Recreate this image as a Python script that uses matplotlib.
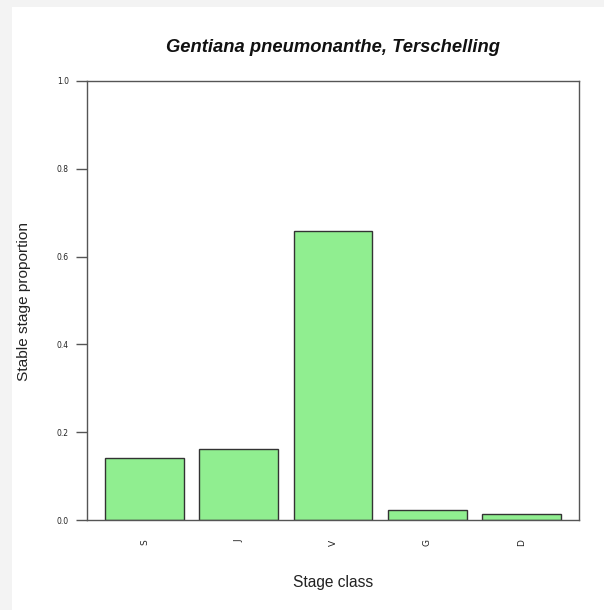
import matplotlib
matplotlib.use("Agg")
import matplotlib.pyplot as plt
from matplotlib.patches import Rectangle

categories = ["S", "J", "V", "G", "D"]
values = [0.141, 0.162, 0.658, 0.023, 0.014]
yticks = [0.0, 0.2, 0.4, 0.6, 0.8, 1.0]
ytick_labels = ["0.0", "0.2", "0.4", "0.6", "0.8", "1.0"]

W, H = 604, 610
fig = plt.figure(figsize=(W / 100, H / 100), dpi=100)
fig.patch.set_facecolor("#f3f3f3")
# white page area
fig.patches.append(Rectangle((12 / W, 0), 1 - 12 / W, 1 - 7 / H, transform=fig.transFigure,
                             facecolor="white", edgecolor="none", zorder=-5))

left, right, top, bottom = 87, 579, 81, 520
ax = fig.add_axes([left / W, 1 - bottom / H, (right - left) / W, (bottom - top) / H])
ax.set_zorder(2)
ax.set_facecolor("white")

pos = [0.7 + 1.2 * i for i in range(len(categories))]
ax.bar(pos, values, width=1.0, color="#90EE90", edgecolor="#333333", linewidth=1.0, zorder=2)

x0, x1 = 0.2, pos[-1] + 0.5
ext = (x1 - x0) * 0.04
ax.set_xlim(x0 - ext, x1 + ext)
ax.set_ylim(0, 1)

for s in ax.spines.values():
    s.set_color("#555555")
    s.set_linewidth(1.0)

ax.set_yticks(yticks)
ax.set_yticklabels(ytick_labels, fontsize=5.5, family="DejaVu Sans")
ax.tick_params(axis="y", length=8, width=1.0, color="#555555", pad=5, labelcolor="#222222")
ax.set_xticks(pos)
ax.set_xticklabels(categories, rotation=90, fontsize=6.5, color="#222222")
ax.tick_params(axis="x", length=0, pad=14)

fig.text((left + right) / 2 / W, 1 - 47 / H, "Gentiana pneumonanthe, Terschelling",
         ha="center", va="center", fontsize=13.2, fontweight="bold", fontstyle="italic",
         family="Liberation Sans", color="#111111", zorder=3)
fig.text(24 / W, 1 - 301 / H, "Stable stage proportion", ha="center", va="center",
         rotation=90, fontsize=11.1, family="Liberation Sans", color="#222222", zorder=3)
fig.text((left + right) / 2 / W, 1 - 583 / H, "Stage class", ha="center", va="center",
         fontsize=11.2, family="Liberation Sans", color="#222222", zorder=3)

fig.savefig("out.png", dpi=100)
